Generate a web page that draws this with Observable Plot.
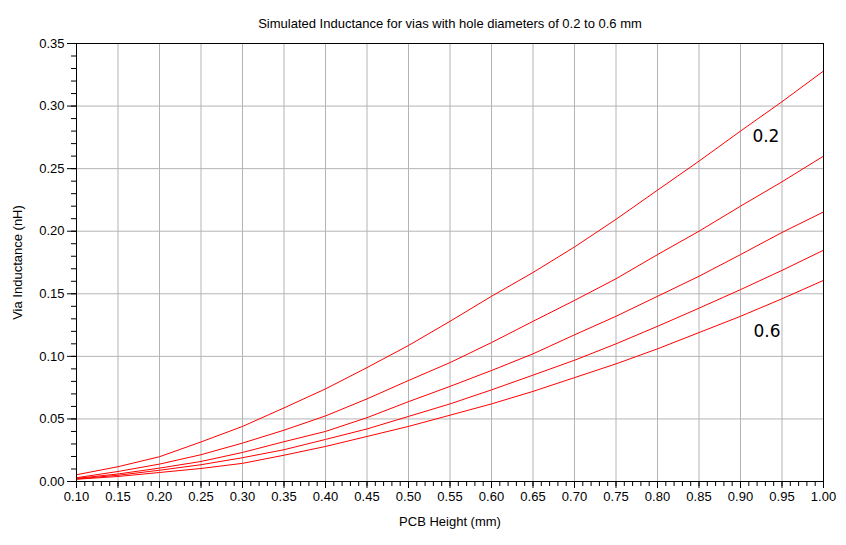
<!DOCTYPE html>
<html>
<head>
<meta charset="utf-8">
<script src="https://cdn.jsdelivr.net/npm/d3@7"></script>
<script src="https://cdn.jsdelivr.net/npm/@observablehq/plot@0.6"></script>
<style>
  html, body { margin: 0; padding: 0; background: #fff; }
  svg { display: block; }
</style>
</head>
<body>
<div id="chart"></div>
<script>
// PCB height (mm)
const heights = [0.10, 0.15, 0.20, 0.25, 0.30, 0.35, 0.40, 0.45, 0.50, 0.55, 0.60, 0.65, 0.70, 0.75, 0.80, 0.85, 0.90, 0.95, 1.00];
// Via inductance (nH) per hole diameter
const d02 = [0.0054, 0.0118, 0.0198, 0.0316, 0.0440, 0.0588, 0.0740, 0.0910, 0.1087, 0.1280, 0.1480, 0.1670, 0.1874, 0.2095, 0.2328, 0.2560, 0.2800, 0.3035, 0.3280];
const d03 = [0.0030, 0.0080, 0.0139, 0.0214, 0.0307, 0.0410, 0.0524, 0.0660, 0.0807, 0.0950, 0.1110, 0.1280, 0.1447, 0.1620, 0.1813, 0.2000, 0.2200, 0.2395, 0.2600];
const d04 = [0.0025, 0.0060, 0.0107, 0.0160, 0.0232, 0.0318, 0.0400, 0.0510, 0.0638, 0.0760, 0.0887, 0.1020, 0.1172, 0.1320, 0.1480, 0.1640, 0.1813, 0.1990, 0.2154];
const d05 = [0.0020, 0.0050, 0.0090, 0.0134, 0.0190, 0.0254, 0.0336, 0.0420, 0.0520, 0.0620, 0.0732, 0.0850, 0.0969, 0.1100, 0.1240, 0.1385, 0.1533, 0.1687, 0.1848];
const d06 = [0.0018, 0.0040, 0.0072, 0.0104, 0.0145, 0.0210, 0.0280, 0.0360, 0.0440, 0.0530, 0.0620, 0.0720, 0.0830, 0.0940, 0.1060, 0.1190, 0.1320, 0.1460, 0.1607];
const diameters = ["0.2", "0.3", "0.4", "0.5", "0.6"];
const seriesValues = [d02, d03, d04, d05, d06];

// Tick labels / positions
const xMajorTicks = [0.10, 0.15, 0.20, 0.25, 0.30, 0.35, 0.40, 0.45, 0.50, 0.55, 0.60, 0.65, 0.70, 0.75, 0.80, 0.85, 0.90, 0.95, 1.00];
const yMajorTicks = [0.00, 0.05, 0.10, 0.15, 0.20, 0.25, 0.30, 0.35];
const xMinorTicks = d3.range(10, 101).map(d => d / 100);
const yMinorTicks = d3.range(0, 36).map(d => d / 100);

// Curve annotations
const curveLabels = [
  {text: "0.2", x: 0.9306, y: 0.2755},
  {text: "0.6", x: 0.9320, y: 0.1201}
];

const titleText = "Simulated Inductance for vias with hole diameters of 0.2 to 0.6 mm";

const rows = [];
seriesValues.forEach((vals, i) => {
  vals.forEach((v, j) => rows.push({d: diameters[i], x: heights[j], y: v}));
});

const fmt = d3.format(".2f");

const chart = Plot.plot({
  width: 846,
  height: 545,
  marginLeft: 76,
  marginRight: 23,
  marginTop: 43,
  marginBottom: 64,
  style: {fontFamily: "'Liberation Sans', Arial, sans-serif", fontSize: "13px", color: "#000", background: "#fff"},
  x: {domain: [0.1, 1.0]},
  y: {domain: [0, 0.35]},
  marks: [
    Plot.gridX(xMajorTicks, {stroke: "#b4b4b4", strokeOpacity: 1}),
    Plot.gridY(yMajorTicks, {stroke: "#b4b4b4", strokeOpacity: 1}),
    Plot.axisX(xMinorTicks, {tickSize: 5, tickFormat: () => "", label: null}),
    Plot.axisY(yMinorTicks, {tickSize: 5, tickFormat: () => "", label: null}),
    Plot.axisX(xMajorTicks, {tickSize: 7, tickPadding: 3, tickFormat: fmt, fontSize: 13,
      label: "PCB Height (mm)", labelAnchor: "center", labelArrow: "none", labelOffset: 44}),
    Plot.axisY(yMajorTicks, {tickSize: 9, tickPadding: 3, tickFormat: fmt, fontSize: 13,
      label: "Via Inductance (nH)", labelAnchor: "center", labelArrow: "none", labelOffset: 64}),
    Plot.line(rows, {x: "x", y: "y", z: "d", stroke: "#ff0000", strokeWidth: 1}),
    Plot.frame({stroke: "#000", strokeWidth: 1}),
    Plot.text(curveLabels, {x: "x", y: "y", text: "text", fontSize: 17, fontFamily: "'DejaVu Sans', Verdana, sans-serif", fill: "#000"}),
    Plot.text([titleText], {frameAnchor: "top", dy: -25, fontSize: 13, fill: "#000"})
  ]
});

document.getElementById("chart").appendChild(chart);
</script>
</body>
</html>
